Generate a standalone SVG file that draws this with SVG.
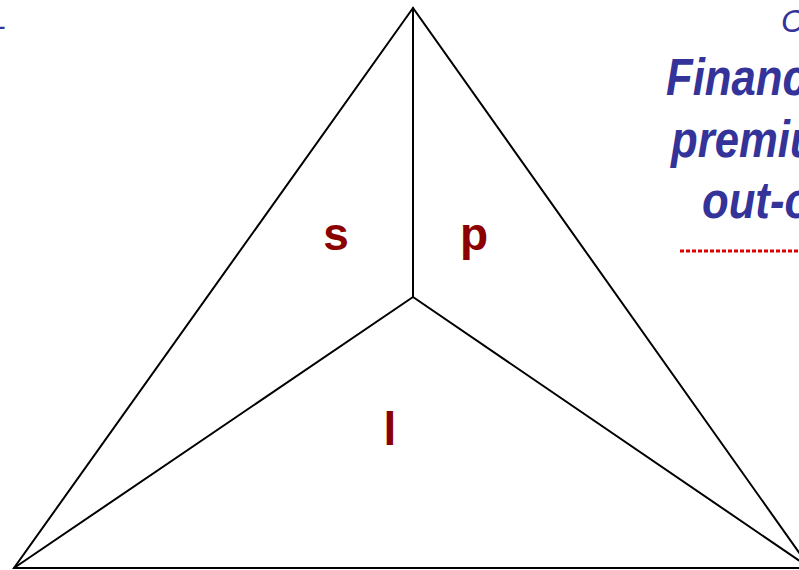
<svg xmlns="http://www.w3.org/2000/svg" width="799" height="570" viewBox="0 0 799 570">
<style>
.edge{stroke:#000;stroke-width:2;fill:none;stroke-linecap:round}
.lbl{font-family:"Liberation Sans",Arial,sans-serif;font-weight:bold;font-size:46px;fill:#8B0000;text-anchor:middle}
.blue{font-family:"Liberation Sans",Arial,sans-serif;font-style:italic;fill:#333399}
.big{font-size:52px;font-weight:bold}
</style>
<rect width="799" height="570" fill="#fff"/>
<g id="connectors">
<polygon class="edge" points="413,8 14,568 810,568"/>
<line class="edge" x1="413" y1="8" x2="413" y2="297"/>
<line class="edge" x1="413" y1="297" x2="14" y2="568"/>
<line class="edge" x1="413" y1="297" x2="810" y2="568"/>
</g>
<g id="node-s"><text class="lbl" x="336" y="250">s</text></g>
<g id="node-p"><text class="lbl" x="474" y="250">p</text></g>
<g id="node-l"><text class="lbl" x="390" y="445">l</text></g>
<g id="side-text">
<text class="blue" x="-4" y="35" font-size="28">-</text>
<text class="blue" x="781" y="32" font-size="32">C</text>
<text class="blue big" transform="translate(666,95) scale(0.84,1)">Financ</text>
<text class="blue big" transform="translate(671,157) scale(0.84,1)">premiu</text>
<text class="blue big" transform="translate(702,218) scale(0.84,1)">out-o</text>
<line x1="680" y1="251" x2="799" y2="251" stroke="#DD0000" stroke-width="3" stroke-dasharray="4,2"/>
</g>
</svg>
